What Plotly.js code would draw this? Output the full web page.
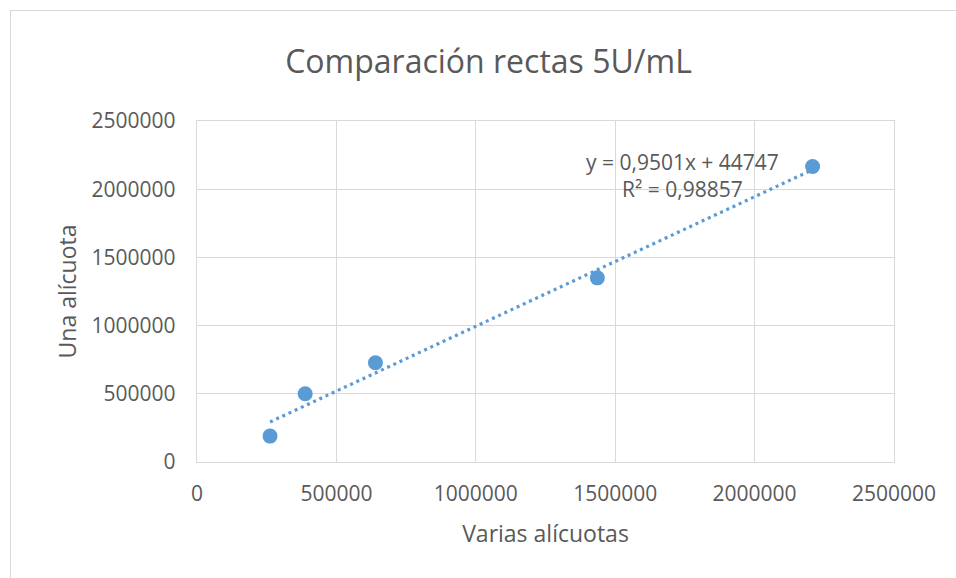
<!DOCTYPE html>
<html>
<head>
<meta charset="utf-8">
<script src="https://cdn.plot.ly/plotly-3.0.1.min.js"></script>
<style>
html,body{margin:0;padding:0;background:#fff;overflow:hidden;}
#frame{position:absolute;left:10px;top:10px;width:1000px;height:600px;border:1px solid #d9d9d9;}
#chart{position:absolute;left:0;top:0;width:956px;height:578px;}
</style>
</head>
<body>
<div id="frame"></div>
<div id="chart"></div>
<script>
const chartTitle = "Comparación rectas 5U/mL";
const xTitle = "Varias alícuotas";
const yTitle = "Una alícuota";
const variasAlicuotas = [262000, 388000, 640000, 1436000, 2208000];
const unaAlicuota = [190000, 500000, 728000, 1350000, 2166000];
const slope = 0.9501;
const intercept = 44747;
const equationText = "y = 0,9501x + 44747<br>R² = 0,98857";
const tickVals = [0, 500000, 1000000, 1500000, 2000000, 2500000];

const xMin = Math.min(...variasAlicuotas);
const xMax = Math.max(...variasAlicuotas);
const trendX = [xMin, xMax];
const trendY = trendX.map(v => slope * v + intercept);

const font = "Open Sans, Noto Sans, sans-serif";
const grey = "#595959";

const data = [
  {x: trendX, y: trendY, type: "scatter", mode: "lines",
   line: {color: "#5b9bd5", width: 3.2, dash: "3px,3.8px"}, hoverinfo: "skip"},
  {x: variasAlicuotas, y: unaAlicuota, type: "scatter", mode: "markers",
   marker: {color: "#5b9bd5", size: 15}}
];

const axisBase = {
  range: [0, 2500000], tickvals: tickVals, tickformat: "d",
  showgrid: true, gridcolor: "#d9d9d9", gridwidth: 1.3,
  zeroline: true, zerolinecolor: "#d9d9d9", zerolinewidth: 1.3,
  showline: true, mirror: true, linecolor: "#d9d9d9", linewidth: 1.3,
  ticks: "outside", tickcolor: "rgba(0,0,0,0)",
  tickfont: {family: font, size: 21, color: grey}, fixedrange: true
};

const layout = {
  width: 956, height: 578,
  paper_bgcolor: "rgba(0,0,0,0)", plot_bgcolor: "rgba(0,0,0,0)",
  margin: {l: 197, r: 62, t: 121, b: 116},
  showlegend: false,
  title: {text: chartTitle, x: 0.511, xanchor: "center", y: 0.893, yanchor: "middle",
          font: {family: font, size: 32, color: grey}},
  xaxis: Object.assign({}, axisBase, {ticklen: 12,
          title: {text: xTitle, standoff: 20, font: {family: font, size: 23, color: grey}}}),
  yaxis: Object.assign({}, axisBase, {ticklen: 16,
          title: {text: yTitle, standoff: 8, font: {family: font, size: 23, color: grey}}}),
  annotations: [{
    x: 1743000, y: 2100000, xref: "x", yref: "y", text: equationText,
    showarrow: false, align: "center", font: {family: font, size: 21, color: grey},
    bgcolor: "rgba(0,0,0,0)"
  }]
};

Plotly.newPlot("chart", data, layout, {displayModeBar: false, staticPlot: true});
</script>
</body>
</html>
